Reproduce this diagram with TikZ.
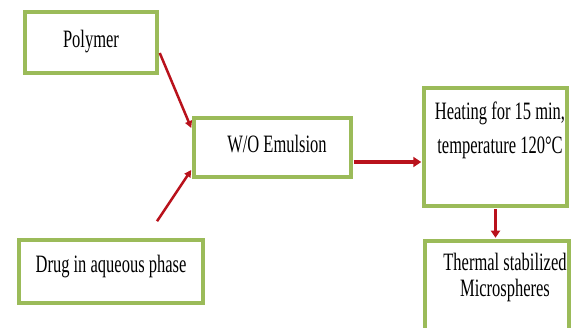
\documentclass[tikz,border=0pt]{standalone}
\usepackage{fontspec}
\setmainfont{Liberation Serif}
\newfontfamily\condfont[FakeStretch=0.66]{Liberation Serif}
\usetikzlibrary{arrows.meta,calc}
\definecolor{boxgreen}{RGB}{155,187,89}
\definecolor{arrred}{RGB}{185,18,28}
\begin{document}
\begin{tikzpicture}[x=1pt,y=-1pt,
  stepbox/.style={draw=boxgreen,line width=3.5pt,fill=white,inner sep=0pt},
  lbl/.style={font=\condfont\fontsize{25}{29}\selectfont,inner sep=0pt,anchor=base,text=black},
  arr/.style={draw=arrred,-{Triangle[length=7pt,width=7pt]}}]
\useasboundingbox (0,0) rectangle (582,328);
\clip (0,0) rectangle (582,328);
% boxes
\node[stepbox,minimum width=132pt,minimum height=61pt] (poly) at (91,42.5) {};
\node[stepbox,minimum width=157pt,minimum height=59pt] (emul) at (272.5,147.5) {};
\node[stepbox,minimum width=184pt,minimum height=63pt] (drug) at (111,271.5) {};
\node[stepbox,minimum width=143pt,minimum height=118pt] (heat) at (495.5,147) {};
\node[stepbox,minimum width=144pt,minimum height=100pt] (therm) at (497,291) {};
% texts
\node[lbl] (polytxt) at (91,48) {Polymer};
\node[lbl] (emultxt) at (277,153) {W/O Emulsion};
\node[lbl] (drugtxt) at (111,273) {Drug in aqueous phase};
\node[lbl] (heattxta) at (500,120) {Heating for 15 min,};
\node[lbl] (heattxtb) at (500,154) {temperature 120°C};
\node[lbl] (thermtxta) at (505,271) {Thermal stabilized};
\node[lbl] (thermtxtb) at (505,297) {Microspheres};
% connectors
\draw[arr,line width=2.5pt] ($(poly.east)+(1,10.5)$) -- ($(emul.west)+(-1,-19.5)$);
\draw[arr,line width=2.5pt] ($(drug.north)+(46,-17)$) -- ($(emul.west)+(-1,22.5)$);
\coordinate (e1) at ($(emul.east)+(1,14.5)$);
\draw[arr,line width=4pt,-{Triangle[length=8pt,width=10pt]}] (e1) -- ($(e1 -| heat.west)+(-1,0)$);
\draw[arr,line width=3pt,-{Triangle[length=7pt,width=9pt]}] ($(heat.south)+(0,1.5)$) -- ($(heat.south |- therm.north)+(0,-1.5)$);
\end{tikzpicture}
\end{document}
